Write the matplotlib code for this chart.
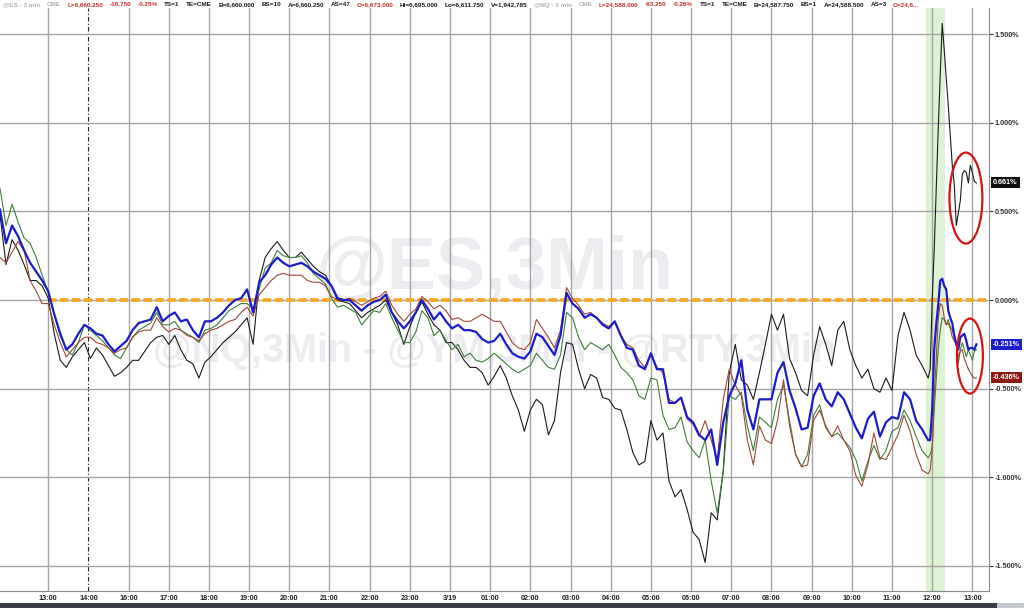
import matplotlib.pyplot as plt
import matplotlib.transforms as mtransforms
from matplotlib.patches import Ellipse, Rectangle

plt.rcParams['font.family'] = ['Liberation Sans', 'DejaVu Sans']

# 3-min bar index from the left edge: every 3rd bar, then every bar in the last hour
bars = list(range(0, 463, 3)) + list(range(463, 487))

# % change, @ES (blue, thick)
es_pct = [0.51, 0.32, 0.42, 0.36, 0.28, 0.21, 0.16, 0.11, 0.05, -0.08,
          -0.19, -0.28, -0.25, -0.19, -0.14, -0.16, -0.19, -0.20, -0.25, -0.29,
          -0.26, -0.23, -0.17, -0.13, -0.12, -0.11, -0.04, -0.12, -0.09, -0.07,
          -0.12, -0.11, -0.17, -0.21, -0.12, -0.12, -0.10, -0.07, -0.03, 0.00,
          0.01, 0.06, -0.07, 0.10, 0.14, 0.20, 0.24, 0.21, 0.19, 0.20,
          0.21, 0.19, 0.16, 0.14, 0.12, 0.08, 0.01, 0.00, 0.00, -0.03,
          -0.06, -0.03, -0.01, 0.00, 0.03, -0.07, -0.12, -0.16, -0.12, -0.07,
          0.00, -0.05, -0.11, -0.07, -0.12, -0.16, -0.14, -0.17, -0.17, -0.18,
          -0.22, -0.24, -0.23, -0.19, -0.25, -0.30, -0.32, -0.33, -0.29, -0.19,
          -0.21, -0.26, -0.31, -0.20, 0.04, -0.02, -0.05, -0.10, -0.08, -0.10,
          -0.14, -0.16, -0.12, -0.20, -0.27, -0.28, -0.37, -0.39, -0.30, -0.39,
          -0.39, -0.58, -0.58, -0.55, -0.66, -0.69, -0.76, -0.79, -0.73, -0.93,
          -0.69, -0.54, -0.47, -0.34, -0.62, -0.73, -0.56, -0.56, -0.56, -0.41,
          -0.35, -0.51, -0.61, -0.73, -0.72, -0.54, -0.47, -0.56, -0.60, -0.52,
          -0.56, -0.64, -0.72, -0.78, -0.67, -0.63, -0.77, -0.69, -0.66, -0.67,
          -0.52, -0.56, -0.68, -0.73, -0.79,
          -0.79, -0.62, -0.28, -0.14, -0.03, 0.11, 0.12, 0.08, 0.06, -0.06,
          -0.10, -0.13, -0.20, -0.25, -0.28, -0.21, -0.20, -0.19, -0.23, -0.28,
          -0.27, -0.27, -0.28, -0.25]

# % change, @NQ (brown)
nq_pct = [0.24, 0.21, 0.27, 0.33, 0.28, 0.11, 0.05, -0.02, -0.02, -0.14,
          -0.24, -0.32, -0.28, -0.24, -0.21, -0.21, -0.24, -0.25, -0.27, -0.30,
          -0.28, -0.27, -0.21, -0.18, -0.17, -0.17, -0.10, -0.15, -0.18, -0.16,
          -0.17, -0.20, -0.21, -0.23, -0.19, -0.17, -0.16, -0.14, -0.12, -0.11,
          -0.07, -0.04, -0.09, 0.03, 0.07, 0.11, 0.14, 0.15, 0.14, 0.14,
          0.14, 0.11, 0.10, 0.10, 0.08, 0.02, 0.00, 0.00, 0.01, -0.01,
          -0.03, -0.01, 0.01, 0.02, 0.05, -0.03, -0.08, -0.12, -0.08, -0.05,
          0.02, -0.01, -0.05, -0.03, -0.06, -0.11, -0.10, -0.12, -0.12, -0.10,
          -0.08, -0.10, -0.12, -0.12, -0.18, -0.24, -0.27, -0.28, -0.24, -0.11,
          -0.16, -0.21, -0.27, -0.17, 0.07, 0.01, -0.03, -0.08, -0.07, -0.10,
          -0.13, -0.15, -0.12, -0.20, -0.25, -0.27, -0.34, -0.38, -0.31, -0.38,
          -0.41, -0.56, -0.58, -0.55, -0.67, -0.70, -0.77, -0.68, -0.79, -0.90,
          -0.56, -0.39, -0.48, -0.54, -0.79, -0.93, -0.71, -0.79, -0.81, -0.68,
          -0.45, -0.71, -0.87, -0.94, -0.93, -0.68, -0.62, -0.71, -0.77, -0.71,
          -0.79, -0.85, -0.99, -1.05, -0.93, -0.75, -0.89, -0.90, -0.83, -0.76,
          -0.65, -0.74, -0.87, -0.96, -0.98,
          -0.96, -0.85, -0.54, -0.34, -0.11, -0.02, -0.03, -0.10, -0.14, -0.13,
          -0.16, -0.21, -0.23, -0.25, -0.32, -0.29, -0.28, -0.33, -0.36, -0.39,
          -0.41, -0.43, -0.44, -0.44]

# % change, @YM (green)
ym_pct = [0.63, 0.42, 0.54, 0.44, 0.35, 0.32, 0.24, 0.14, 0.04, -0.08,
          -0.20, -0.28, -0.31, -0.24, -0.14, -0.17, -0.20, -0.23, -0.27, -0.31,
          -0.33, -0.27, -0.21, -0.17, -0.15, -0.13, -0.07, -0.14, -0.14, -0.12,
          -0.17, -0.19, -0.21, -0.24, -0.17, -0.16, -0.14, -0.10, -0.06, -0.04,
          -0.02, -0.02, -0.05, 0.06, 0.18, 0.21, 0.28, 0.25, 0.24, 0.24,
          0.25, 0.21, 0.15, 0.12, 0.09, 0.01, -0.04, -0.03, -0.05, -0.07,
          -0.14, -0.10, -0.06, -0.07, -0.02, -0.10, -0.17, -0.24, -0.24, -0.18,
          -0.06, -0.10, -0.20, -0.17, -0.23, -0.28, -0.25, -0.32, -0.30, -0.34,
          -0.35, -0.33, -0.30, -0.33, -0.36, -0.39, -0.41, -0.39, -0.37, -0.30,
          -0.34, -0.38, -0.39, -0.31, -0.07, -0.10, -0.21, -0.28, -0.24, -0.26,
          -0.28, -0.25, -0.31, -0.38, -0.41, -0.45, -0.54, -0.56, -0.44, -0.45,
          -0.65, -0.73, -0.72, -0.66, -0.80, -0.85, -0.89, -0.79, -1.02, -1.20,
          -0.97, -0.54, -0.56, -0.52, -0.71, -0.85, -0.66, -0.69, -0.72, -0.56,
          -0.48, -0.68, -0.87, -0.94, -0.87, -0.65, -0.59, -0.72, -0.77, -0.75,
          -0.79, -0.83, -0.90, -1.02, -0.91, -0.82, -0.90, -0.85, -0.74, -0.72,
          -0.62, -0.68, -0.77, -0.85, -0.89,
          -0.87, -0.83, -0.62, -0.45, -0.28, -0.17, -0.10, -0.11, -0.14, -0.11,
          -0.15, -0.17, -0.21, -0.25, -0.36, -0.28, -0.24, -0.28, -0.32, -0.28,
          -0.31, -0.34, -0.29, -0.28]

# % change, @RTY (black)
rty_pct = [0.48, 0.20, 0.34, 0.28, 0.20, 0.11, 0.11, 0.08, 0.01, -0.19,
           -0.34, -0.38, -0.32, -0.28, -0.24, -0.33, -0.27, -0.31, -0.37, -0.43,
           -0.41, -0.38, -0.34, -0.34, -0.29, -0.24, -0.21, -0.20, -0.25, -0.20,
           -0.28, -0.34, -0.36, -0.44, -0.35, -0.32, -0.28, -0.24, -0.21, -0.18,
           -0.14, -0.10, -0.25, 0.11, 0.24, 0.29, 0.33, 0.28, 0.24, 0.24,
           0.27, 0.23, 0.19, 0.16, 0.14, 0.08, 0.00, -0.01, -0.02, -0.06,
           -0.10, -0.07, -0.05, -0.03, 0.00, -0.07, -0.14, -0.25, -0.15, -0.07,
           -0.01, -0.08, -0.14, -0.17, -0.24, -0.24, -0.28, -0.34, -0.38, -0.38,
           -0.41, -0.48, -0.43, -0.37, -0.44, -0.54, -0.62, -0.74, -0.62, -0.56,
           -0.59, -0.76, -0.68, -0.41, -0.24, -0.25, -0.39, -0.50, -0.42, -0.44,
           -0.55, -0.56, -0.61, -0.62, -0.73, -0.86, -0.93, -0.91, -0.68, -0.79,
           -0.75, -1.02, -1.11, -1.07, -1.18, -1.31, -1.35, -1.48, -1.20, -1.24,
           -0.96, -0.41, -0.25, -0.45, -0.48, -0.56, -0.41, -0.25, -0.08, -0.17,
           -0.08, -0.33, -0.41, -0.51, -0.54, -0.31, -0.15, -0.25, -0.37, -0.17,
           -0.12, -0.28, -0.37, -0.44, -0.39, -0.50, -0.52, -0.44, -0.51, -0.20,
           -0.07, -0.17, -0.31, -0.37, -0.44,
           -0.39, 0.00, 0.28, 0.62, 0.96, 1.27, 1.56, 1.41, 1.25, 1.10,
           0.93, 0.76, 0.65, 0.42, 0.49, 0.56, 0.71, 0.73, 0.72, 0.66,
           0.76, 0.72, 0.67, 0.66]

hour_labels = ['13:00', '14:00', '16:00', '17:00', '18:00', '19:00', '20:00',
               '21:00', '22:00', '23:00', '3/19', '01:00', '02:00', '03:00',
               '04:00', '05:00', '06:00', '07:00', '08:00', '09:00', '10:00',
               '11:00', '12:00', '13:00']
hour_bars = [24 + 20 * i for i in range(len(hour_labels))]
y_ticks = [-1.5, -1.0, -0.5, 0.0, 0.5, 1.0, 1.5]

last_vals = [0.661, -0.251, -0.436]
last_text = ['0.661%', '-0.251%', '-0.436%']
last_colors = ['#111111', '#1c1cc8', '#8a1a12']

GRAY, RED, BLK = '#b0b0b0', '#c8302c', '#1a1a1a'
header = [('@ES - 3 min', GRAY), ('CME', GRAY), ('L=6,660.250', RED),
          ('-16.750', RED), ('-0.25%', RED), ('TS=1', BLK), ('TE=CME', BLK),
          ('B=6,660.000', BLK), ('BS=10', BLK), ('A=6,660.250', BLK),
          ('AS=47', BLK), ('O=6,673.000', RED), ('Hi=6,695.000', BLK),
          ('Lo=6,611.750', BLK), ('V=1,942,785', BLK), ('@NQ - 3 min', GRAY),
          ('CME', GRAY), ('L=24,588.000', RED), ('-63.250', RED),
          ('-0.26%', RED), ('TS=1', BLK), ('TE=CME', BLK),
          ('B=24,587.750', BLK), ('BS=1', BLK), ('A=24,588.500', BLK),
          ('AS=3', BLK), ('O=24,6...', RED)]

W, H = 1024, 608
fig = plt.figure(figsize=(W / 100, H / 100), dpi=100)
ax = fig.add_axes([0, 17 / H, 989 / W, 583 / H])
xmax = 989 / 2.009
ax.set_xlim(0, xmax)
ax.set_ylim(-1.641, 1.647)

# grid
for lab, b in zip(hour_labels, hour_bars):
    if lab == '14:00':
        ax.axvline(b, color='#222222', lw=0.8, ls=(0, (4, 2, 1, 2)), zorder=1)
    else:
        ax.axvline(b, color='#a4a4a4', lw=1.0, zorder=1)
for v in y_ticks:
    ax.axhline(v, color='#a4a4a4', lw=1.0, zorder=1)

# highlighted window
ax.axvspan(461, 470.4, color='#dcf2d2', lw=0, zorder=0.5)

# watermarks
ax.text(0.5, 0.551, '@ES,3Min', transform=ax.transAxes, ha='center', va='center',
        fontsize=53, fontweight='bold', color='#ececf0', zorder=0.8)
ax.text(0.5, 0.412, '@NQ,3Min - @YM,3Min - @RTY,3Min', transform=ax.transAxes,
        ha='center', va='center', fontsize=28.5, fontweight='bold',
        color='#ececf0', zorder=0.8)

ax.axhline(0, xmin=hour_bars[0] / xmax, xmax=1, color='#f5a623', lw=2.6,
           dashes=(2.4, 0.9), zorder=2.5)

ax.plot(bars, rty_pct, color='#1a1a1a', lw=0.8, zorder=3)
ax.plot(bars, ym_pct, color='#3f7f3a', lw=0.8, zorder=3.1)
ax.plot(bars, nq_pct, color='#9c4a36', lw=0.8, zorder=3.2)
ax.plot(bars, es_pct, color='#1c1cc8', lw=1.6, zorder=3.3)

ax.add_patch(Ellipse((480.8, 0.575), 16.4, 0.513, fill=False, ec='#d01515', lw=1.6, zorder=5))
ax.add_patch(Ellipse((482.8, -0.316), 12.9, 0.423, fill=False, ec='#d01515', lw=1.6, zorder=5))

# axes
ax.set_xticks(hour_bars, hour_labels)
ax.tick_params(axis='x', length=0, pad=3, labelsize=5.2, colors='#222222')
ax.yaxis.tick_right()
ax.set_yticks(y_ticks, [f'{v:.3f}%' for v in y_ticks])
ax.tick_params(axis='y', length=3, width=0.8, colors='#333333', pad=1, labelsize=5.2)
for t in ax.get_xticklabels() + ax.get_yticklabels():
    t.set_fontweight('bold')
for s in ['left', 'top']:
    ax.spines[s].set_visible(False)
for s in ['right', 'bottom']:
    ax.spines[s].set_color('#8a8a8a')

trans = mtransforms.blended_transform_factory(ax.transAxes, ax.transData)
for v, t, c in zip(last_vals, last_text, last_colors):
    ax.text(1.004, v, t, transform=trans, ha='left', va='center', fontsize=5.2,
            fontweight='bold', color='white', clip_on=False, zorder=6,
            bbox=dict(boxstyle='square,pad=0.3', fc=c, ec='none'))

# header line
renderer = fig.canvas.get_renderer()
x = 3
for txt, col in header:
    t = fig.text(x / W, 1 - 5 / H, txt, fontsize=4.6, fontweight='bold',
                 color=col, va='center', ha='left')
    x = t.get_window_extent(renderer).x1 + 6.5

# bottom status bar
fig.add_artist(Rectangle((0, 0), 997 / W, 5 / H, transform=fig.transFigure,
                         fc='#3a3f48', ec='none'))
fig.add_artist(Rectangle((997 / W, 0), 27 / W, 5 / H, transform=fig.transFigure,
                         fc='#c4c7cc', ec='none'))

fig.savefig('out.png', dpi=100)
